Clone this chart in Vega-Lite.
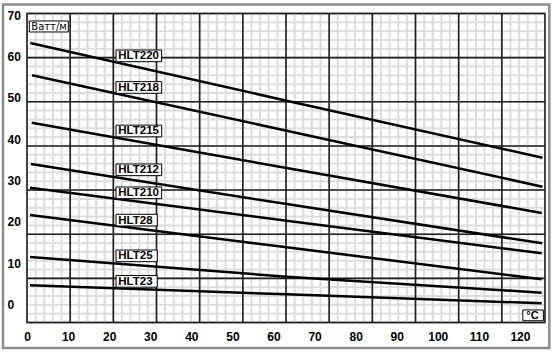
{
  "$schema": "https://vega.github.io/schema/vega-lite/v6.json",
  "width": 518,
  "height": 309,
  "autosize": "none",
  "padding": {"left": 27, "top": 13.5, "right": 8, "bottom": 31.5},
  "background": "white",
  "config": {
    "view": {"stroke": "#000000", "strokeWidth": 1.6, "fill": "white"},
    "font": "Liberation Sans"
  },
  "datasets": {
    "grid": [
      {"k": 0}, {"k": 1}, {"k": 2}, {"k": 3}, {"k": 4}, {"k": 5}, {"k": 6}, {"k": 7}, {"k": 8}, {"k": 9},
      {"k": 10}, {"k": 11}, {"k": 12}, {"k": 13}, {"k": 14}, {"k": 15}, {"k": 16}, {"k": 17}, {"k": 18}, {"k": 19},
      {"k": 20}, {"k": 21}, {"k": 22}, {"k": 23}, {"k": 24}, {"k": 25}, {"k": 26}, {"k": 27}, {"k": 28}, {"k": 29},
      {"k": 30}, {"k": 31}, {"k": 32}, {"k": 33}, {"k": 34}, {"k": 35}, {"k": 36}, {"k": 37}, {"k": 38}, {"k": 39},
      {"k": 40}, {"k": 41}, {"k": 42}, {"k": 43}, {"k": 44}, {"k": 45}, {"k": 46}, {"k": 47}, {"k": 48}, {"k": 49},
      {"k": 50}, {"k": 51}, {"k": 52}, {"k": 53}, {"k": 54}, {"k": 55}, {"k": 56}, {"k": 57}, {"k": 58}, {"k": 59},
      {"k": 60}
    ],
    "curves": [
      {"series": "HLT220", "t": 0.8, "w": 63.25}, {"series": "HLT220", "t": 63.2, "w": 49.29}, {"series": "HLT220", "t": 125.5, "w": 35.5},
      {"series": "HLT218", "t": 1.22, "w": 55.44}, {"series": "HLT218", "t": 63.2, "w": 42.03}, {"series": "HLT218", "t": 125.5, "w": 28.48},
      {"series": "HLT215", "t": 1.14, "w": 43.97}, {"series": "HLT215", "t": 63.2, "w": 33.01}, {"series": "HLT215", "t": 125.3, "w": 22.12},
      {"series": "HLT212", "t": 0.97, "w": 33.97}, {"series": "HLT212", "t": 63.2, "w": 24.29}, {"series": "HLT212", "t": 125.4, "w": 14.78},
      {"series": "HLT210", "t": 0.73, "w": 28.24}, {"series": "HLT210", "t": 63.2, "w": 20.25}, {"series": "HLT210", "t": 125.3, "w": 12.37},
      {"series": "HLT28", "t": 0.73, "w": 21.63}, {"series": "HLT28", "t": 63.2, "w": 13.82}, {"series": "HLT28", "t": 125.3, "w": 6.07},
      {"series": "HLT25", "t": 0.73, "w": 11.47}, {"series": "HLT25", "t": 63.2, "w": 6.7}, {"series": "HLT25", "t": 125.3, "w": 2.83},
      {"series": "HLT23", "t": 0.73, "w": 4.62}, {"series": "HLT23", "t": 63.2, "w": 2.44}, {"series": "HLT23", "t": 125.3, "w": 0.27}
    ],
    "labels": [
      {"label": "HLT220", "t": 21.67, "w": 60.14},
      {"label": "HLT218", "t": 21.67, "w": 52.49},
      {"label": "HLT215", "t": 21.67, "w": 41.96},
      {"label": "HLT212", "t": 21.67, "w": 32.56},
      {"label": "HLT210", "t": 21.67, "w": 27.0},
      {"label": "HLT28", "t": 21.67, "w": 20.39},
      {"label": "HLT25", "t": 21.67, "w": 11.75},
      {"label": "HLT23", "t": 21.67, "w": 5.58},
      {"label": "Ватт/м", "t": 0.56, "w": 67.25},
      {"label": "°C", "t": 120.7, "w": -2.65}
    ]
  },
  "layer": [
    {
      "layer": [
        {
          "data": {"name": "grid"},
          "mark": {"type": "rule", "stroke": "#dcdcdc", "strokeWidth": 2},
          "encoding": {
            "x": {"field": "k", "type": "quantitative", "scale": {"domain": [0, 60], "nice": false, "zero": false}, "axis": null}
          }
        },
        {
          "data": {"name": "grid"},
          "transform": [{"filter": "datum.k <= 35"}],
          "mark": {"type": "rule", "stroke": "#dcdcdc", "strokeWidth": 2},
          "encoding": {
            "y": {"field": "k", "type": "quantitative", "scale": {"domain": [0, 35], "nice": false, "zero": false}, "axis": null}
          }
        },
        {
          "data": {"name": "grid"},
          "transform": [{"filter": "datum.k % 5 == 0"}],
          "mark": {"type": "rule", "stroke": "#1e1e1e", "strokeWidth": 1.6},
          "encoding": {
            "x": {"field": "k", "type": "quantitative", "axis": null}
          }
        },
        {
          "data": {"name": "grid"},
          "transform": [{"filter": "datum.k <= 35 && datum.k % 5 == 0"}],
          "mark": {"type": "rule", "stroke": "#1e1e1e", "strokeWidth": 1.6},
          "encoding": {
            "y": {"field": "k", "type": "quantitative", "axis": null}
          }
        },
        {
          "data": {"values": [{}]},
          "mark": {"type": "rect", "fillOpacity": 0, "stroke": "#8c8c8c", "strokeWidth": 2.5},
          "encoding": {
            "x": {"datum": -2.78, "type": "quantitative", "axis": null},
            "x2": {"datum": 60.5},
            "y": {"datum": 36.02, "type": "quantitative", "axis": null},
            "y2": {"datum": -2.89}
          }
        }
      ]
    },
    {
      "encoding": {
        "x": {
          "field": "t", "type": "quantitative",
          "scale": {"domain": [0, 126.1], "nice": false, "zero": false},
          "axis": {
            "orient": "bottom", "title": null, "values": [0, 10, 20, 30, 40, 50, 60, 70, 80, 90, 100, 110, 120],
            "grid": false, "ticks": false, "tickSize": 0, "domain": false,
            "labelFontSize": 12, "labelFontWeight": "bold", "labelColor": "#000000",
            "labelFont": "Liberation Sans", "labelPadding": 9, "labelFlush": false, "labelOverlap": false
          }
        },
        "y": {
          "field": "w", "type": "quantitative",
          "scale": {"domain": [-4.38, 70.39], "nice": false, "zero": false},
          "axis": {
            "orient": "left", "title": null, "values": [0, 10, 20, 30, 40, 50, 60, 70],
            "grid": false, "ticks": false, "tickSize": 0, "domain": false,
            "labelFontSize": 12, "labelFontWeight": "bold", "labelColor": "#000000",
            "labelFont": "Liberation Sans", "labelAlign": "left", "labelBaseline": "middle",
            "labelPadding": 20, "labelFlush": false, "labelOverlap": false
          }
        }
      },
      "layer": [
        {
          "data": {"name": "curves"},
          "mark": {"type": "line", "stroke": "#000000", "strokeWidth": 2.5},
          "encoding": {"detail": {"field": "series", "type": "nominal"}}
        },
        {
          "data": {"name": "labels"},
          "mark": {"type": "point", "filled": true, "fill": "white", "stroke": "#000000", "strokeWidth": 1, "opacity": 1, "size": 484},
          "encoding": {
            "shape": {
              "condition": [
                {"test": "datum.label == 'Ватт/м'", "value": "M0,-0.5H3.55V0.5H0Z"},
                {"test": "datum.label == '°C'", "value": "M0,-0.49H1.87V0.49H0Z"},
                {"test": "length(datum.label) == 6", "value": "M0,-0.53H4.15V0.53H0Z"}
              ],
              "value": "M0,-0.53H3.75V0.53H0Z"
            }
          }
        },
        {
          "data": {"name": "labels"},
          "transform": [{"filter": "indexof(datum.label, 'HLT') == 0"}],
          "mark": {"type": "text", "align": "left", "baseline": "middle", "dx": 2.3, "dy": 0.5, "font": "Liberation Sans", "fontSize": 11.5, "fontWeight": "bold", "color": "#000000"},
          "encoding": {"text": {"field": "label"}}
        },
        {
          "data": {"name": "labels"},
          "transform": [{"filter": "datum.label == 'Ватт/м'"}],
          "mark": {"type": "text", "align": "left", "baseline": "middle", "dx": 2, "dy": 0.5, "font": "DejaVu Sans", "fontSize": 10, "color": "#000000"},
          "encoding": {"text": {"field": "label"}}
        },
        {
          "data": {"name": "labels"},
          "transform": [{"filter": "datum.label == '°C'"}],
          "mark": {"type": "text", "align": "left", "baseline": "middle", "dx": 3.5, "dy": 0.5, "font": "Liberation Sans", "fontSize": 11, "fontWeight": "bold", "color": "#000000"},
          "encoding": {"text": {"field": "label"}}
        }
      ]
    }
  ],
  "resolve": {"scale": {"x": "independent", "y": "independent"}}
}
